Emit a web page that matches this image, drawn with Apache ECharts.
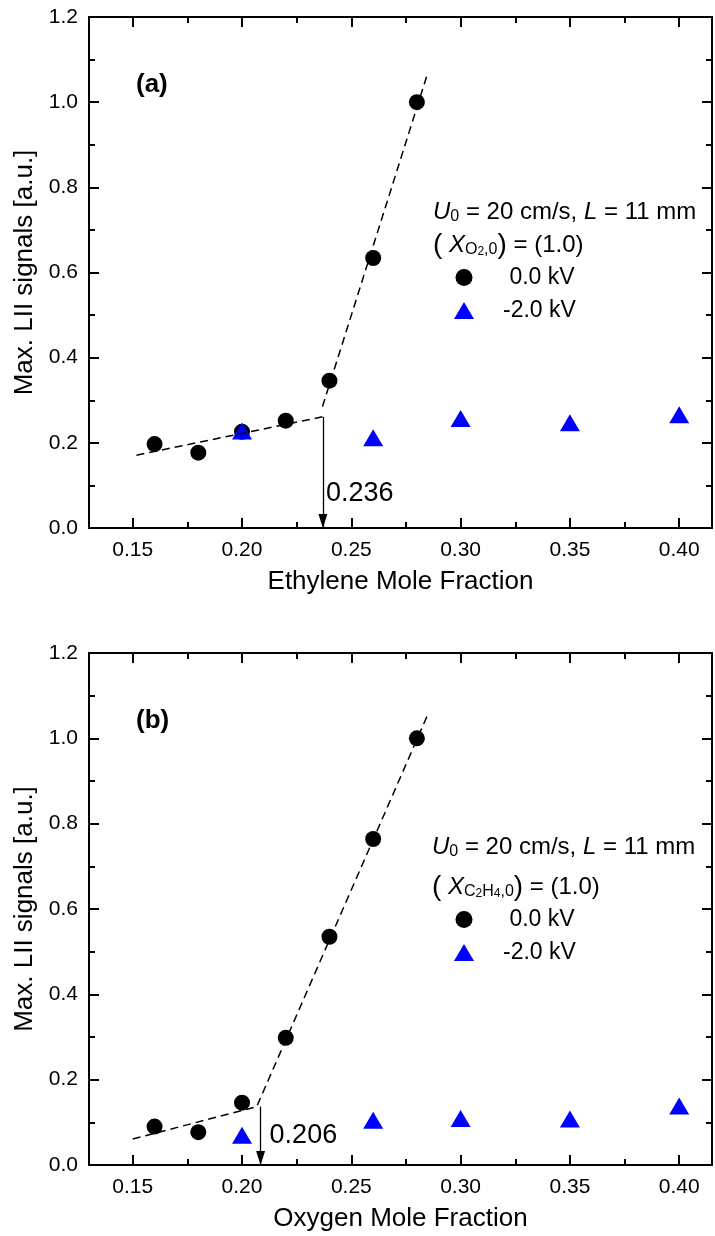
<!DOCTYPE html>
<html>
<head>
<meta charset="utf-8">
<title>Max. LII signals</title>
<script src="https://cdn.jsdelivr.net/npm/echarts@6/dist/echarts.min.js"></script>
<style>
  html, body { margin: 0; padding: 0; background: #fff; }
  #chart { width: 715px; height: 1236px; }
</style>
</head>
<body>
<div id="chart"></div>
<script>
// ticks on the mole fraction axis (both panels)
const xMajorTicks = [0.15, 0.20, 0.25, 0.30, 0.35, 0.40]
const xMinorTicks = [0.175, 0.225, 0.275, 0.325, 0.375]

// (a) ethylene mole fraction
const ethX0 = [0.16, 0.18, 0.20, 0.22, 0.24, 0.26, 0.28]
const ethLii0 = [0.197, 0.177, 0.226, 0.252, 0.346, 0.634, 1.0]
const ethX2 = [0.20, 0.26, 0.30, 0.35, 0.40]
const ethLii2 = [0.228, 0.212, 0.257, 0.247, 0.266]
const ethFitLow = [[0.1517, 0.171], [0.2368, 0.261]]
const ethFitHigh = [[0.2368, 0.285], [0.285, 1.069]]

// (b) oxygen mole fraction
const oxyX0 = [0.16, 0.18, 0.20, 0.22, 0.24, 0.26, 0.28]
const oxyLii0 = [0.090, 0.077, 0.146, 0.298, 0.535, 0.764, 1.0]
const oxyX2 = [0.20, 0.26, 0.30, 0.35, 0.40]
const oxyLii2 = [0.070, 0.105, 0.109, 0.108, 0.138]
const oxyFitLow = [[0.15, 0.061], [0.207, 0.137]]
const oxyFitHigh = [[0.207, 0.140], [0.285, 1.056]]

// break points marked with the arrows
const breakX = [0.237, 0.2085]
const breakTop = [0.261, 0.137]
const breakText = ['0.236', '0.206']

const seriesNames = ['0.0 kV', '-2.0 kV']

const FONT = '"Liberation Sans", Arial, sans-serif'
const black = '#000'
const blue = '#0000ff'

function pairs(xs, ys) {
    return xs.map((x, i) => [x, ys[i]])
}

//four x axes per grid: bottom/top, major/minor ticks
function makeXAxes(grid, title) {
    const base = {
        gridIndex: grid,
        type: 'value',
        min: 0.13,
        max: 0.415,
        splitLine: {show: false}
    }
    const line = {show: true, onZero: false, lineStyle: {color: black, width: 2}}
    const noLine = {show: false, onZero: false}
    const tick = (values, len) => ({
        show: true, inside: true, length: len, customValues: values,
        lineStyle: {color: black, width: 2}
    })
    return [
        {
            ...base, position: 'bottom', axisLine: line, axisTick: tick(xMajorTicks, 10),
            axisLabel: {
                customValues: xMajorTicks, formatter: v => v.toFixed(2),
                color: black, fontSize: 21, fontFamily: FONT, margin: 12
            },
            name: title, nameLocation: 'middle', nameGap: 41,
            nameTextStyle: {color: black, fontSize: 26, fontFamily: FONT}
        },
        {...base, position: 'bottom', axisLine: noLine, axisTick: tick(xMinorTicks, 6), axisLabel: {show: false}},
        {...base, position: 'top', axisLine: line, axisTick: tick(xMajorTicks, 10), axisLabel: {show: false}},
        {...base, position: 'top', axisLine: noLine, axisTick: tick(xMinorTicks, 6), axisLabel: {show: false}}
    ]
}

//left and right y axes per grid
function makeYAxes(grid) {
    const base = {
        gridIndex: grid,
        type: 'value',
        min: 0,
        max: 1.2,
        interval: 0.2,
        splitLine: {show: false},
        axisLine: {show: true, onZero: false, lineStyle: {color: black, width: 2}},
        axisTick: {show: true, inside: true, length: 10, lineStyle: {color: black, width: 2}},
        minorTick: {show: true, splitNumber: 2, length: 6, lineStyle: {color: black, width: 2}}
    }
    return [
        {
            ...base, position: 'left',
            axisLabel: {formatter: v => v.toFixed(1), color: black, fontSize: 21, fontFamily: FONT, margin: 11},
            name: 'Max. LII signals [a.u.]', nameLocation: 'middle', nameGap: 49,
            nameTextStyle: {color: black, fontSize: 26, fontFamily: FONT}
        },
        {...base, position: 'right', axisLabel: {show: false}}
    ]
}

//series of one panel
function makeSeries(grid, x0, y0, x2, y2, fitLow, fitHigh, labelY) {
    const axis = {xAxisIndex: grid * 4, yAxisIndex: grid * 2}
    const dashed = {color: black, width: 1.5, type: [8, 5]}
    return [
        {
            ...axis, type: 'line', data: fitLow, showSymbol: false, silent: true,
            lineStyle: dashed, itemStyle: {color: black},
            markLine: {
                silent: true,
                symbol: ['none', 'triangle'],
                symbolSize: [9, 14],
                symbolOffset: [0, [0, 7]],
                label: {show: false},
                lineStyle: {color: black, type: 'solid', width: 1.3},
                data: [[{coord: [breakX[grid], breakTop[grid]]}, {coord: [breakX[grid], 0]}]]
            }
        },
        {...axis, type: 'line', data: fitHigh, showSymbol: false, silent: true, lineStyle: dashed, itemStyle: {color: black}},
        {
            ...axis, type: 'scatter', name: seriesNames[0], data: pairs(x0, y0),
            symbol: 'circle', symbolSize: 16, itemStyle: {color: black, opacity: 1}
        },
        {
            ...axis, type: 'scatter', name: seriesNames[1], data: pairs(x2, y2),
            symbol: 'triangle', symbolSize: [20, 17], itemStyle: {color: blue, opacity: 1}
        },
        {
            //break value label next to the arrow
            ...axis, type: 'scatter', data: [[breakX[grid], labelY]], symbolSize: 0,
            itemStyle: {color: black, opacity: 1}, silent: true,
            label: {
                show: true, position: 'right', distance: grid === 0 ? 3 : 9,
                formatter: breakText[grid], color: black, opacity: 1, fontSize: 27, fontFamily: FONT
            }
        }
    ]
}

function makeLegend(top) {
    return {
        data: seriesNames,
        orient: 'vertical',
        left: 454,
        top: top,
        padding: 0,
        itemWidth: 20,
        itemHeight: 17,
        itemGap: 10,
        selectedMode: false,
        formatter: n => n[0] === '-' ? n : ' ' + n,
        textStyle: {color: black, fontSize: 23, lineHeight: 23, fontFamily: FONT, padding: [0, 0, 0, 24]}
    }
}

//condition text with italic symbols and subscripts
function condText(x, y, text) {
    return {
        type: 'text', x: x, y: y,
        style: {
            text: text, fill: black, fontSize: 24, fontFamily: FONT, verticalAlign: 'middle',
            rich: {
                i: {fontStyle: 'italic', fontSize: 24, fontFamily: FONT},
                p: {fontSize: 28, fontFamily: FONT},
                s: {fontSize: 16, fontFamily: FONT, padding: [9, 0, 0, 0]},
                ss: {fontSize: 12, fontFamily: FONT, padding: [13, 0, 0, 0]}
            }
        }
    }
}

const chart = echarts.init(document.getElementById('chart'), null, {renderer: 'canvas'})

const option = {
    animation: false,
    backgroundColor: '#fff',
    textStyle: {fontFamily: FONT},
    grid: [
        {left: 89, right: 3, top: 17, height: 511},
        {left: 89, right: 3, top: 653, height: 512}
    ],
    xAxis: [...makeXAxes(0, 'Ethylene Mole Fraction'), ...makeXAxes(1, 'Oxygen Mole Fraction')],
    yAxis: [...makeYAxes(0), ...makeYAxes(1)],
    legend: [makeLegend(266), makeLegend(908)],
    series: [
        ...makeSeries(0, ethX0, ethLii0, ethX2, ethLii2, ethFitLow, ethFitHigh, 0.08),
        ...makeSeries(1, oxyX0, oxyLii0, oxyX2, oxyLii2, oxyFitLow, oxyFitHigh, 0.07)
    ],
    graphic: [
        {type: 'text', x: 136, y: 85, style: {text: '(a)', fill: black, fontSize: 26, fontWeight: 'bold', fontFamily: FONT, verticalAlign: 'middle'}},
        {type: 'text', x: 136, y: 721, style: {text: '(b)', fill: black, fontSize: 26, fontWeight: 'bold', fontFamily: FONT, verticalAlign: 'middle'}},
        condText(433, 212, '{i|U}{s|0} = 20 cm/s, {i|L} = 11 mm'),
        condText(433, 245, '{p|(} {i|X}{s|O}{ss|2}{s|,0}{p|)} = (1.0)'),
        condText(432, 847, '{i|U}{s|0} = 20 cm/s, {i|L} = 11 mm'),
        condText(432, 887, '{p|(} {i|X}{s|C}{ss|2}{s|H}{ss|4}{s|,0}{p|)} = (1.0)')
    ]
}

chart.setOption(option)
</script>
</body>
</html>
